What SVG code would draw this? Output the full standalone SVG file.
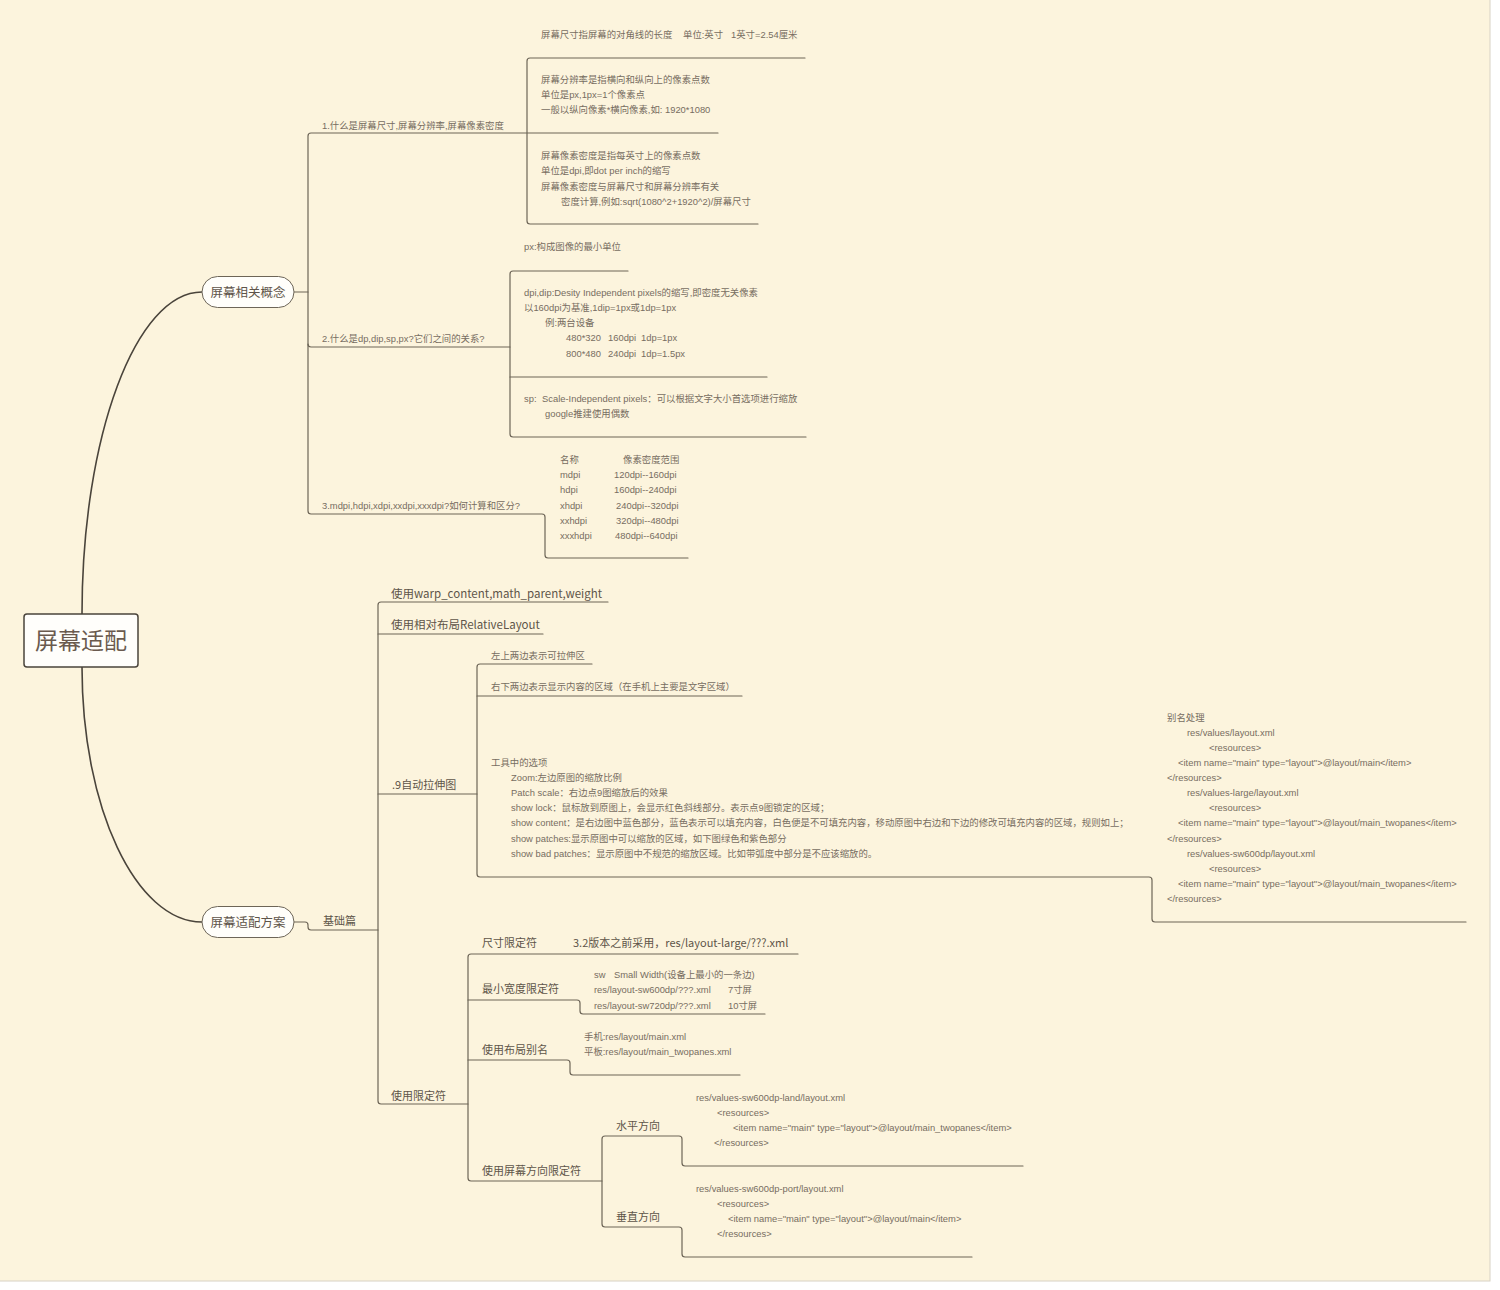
<svg xmlns="http://www.w3.org/2000/svg" width="1500" height="1290" viewBox="0 0 1500 1290">
<style>
.bg{fill:#fcf4dd;stroke:#d8d2c4;stroke-width:1}
.ln{fill:none;stroke:#6d6557;stroke-width:1.2;stroke-linecap:round}
.cv{fill:none;stroke:#4a443b;stroke-width:1.6}
.s{font-family:"Liberation Sans","Noto Sans CJK SC",sans-serif;font-size:9.4px;fill:#776d61}
.m{font-family:"Noto Sans CJK SC","Liberation Sans",sans-serif;font-size:11px;fill:#5e5449}
.l{font-family:"Noto Sans CJK SC","Liberation Sans",sans-serif;font-size:11.5px;fill:#5e5449}
.pill{fill:#fffefa;stroke:#6d6557;stroke-width:1}
.pt{font-family:"Noto Sans CJK SC",sans-serif;font-size:12.5px;fill:#5e5449}
.root{fill:#fffefb;stroke:#4a443b;stroke-width:1.5}
.rt{font-family:"Noto Sans CJK SC",sans-serif;font-size:23px;fill:#6a5a4e}
</style>
<rect x="0" y="0" width="1500" height="1290" fill="#ffffff"/>
<rect class="bg" x="-1" y="-1" width="1491" height="1282"/>

<g id="connectors">
  <path class="cv" d="M 82 614 C 82 436 136 292 202 292"/>
  <path class="cv" d="M 82 667 C 82 808 136 922 202 922"/>
  <path class="ln" d="M 294 292 H 308"/>
  <path class="ln" d="M 718 133 H 311 Q 308 133 308 136 V 511 Q 308 514 311 514 H 542 Q 545 514 545 517 V 555 Q 545 558 548 558 H 688"/>
  <path class="ln" d="M 308 344 Q 308 347 311 347 H 510"/>
  <path class="ln" d="M 805 58 H 530 Q 527 58 527 61 V 221 Q 527 224 530 224 H 758"/>
  <path class="ln" d="M 628 271 H 513 Q 510 271 510 274 V 434 Q 510 437 513 437 H 806"/>
  <path class="ln" d="M 510 377 H 767"/>
  <path class="ln" d="M 294 922 H 305 Q 308 922 308 925 V 927 Q 308 930 311 930 H 378"/>
  <path class="ln" d="M 608 602 H 381 Q 378 602 378 605 V 1101 Q 378 1104 381 1104 H 468"/>
  <path class="ln" d="M 378 634 H 543"/>
  <path class="ln" d="M 378 794 H 477"/>
  <path class="ln" d="M 592 664 H 480 Q 477 664 477 667 V 874 Q 477 877 480 877 H 1149 Q 1152 877 1152 880 V 919 Q 1152 922 1155 922 H 1466"/>
  <path class="ln" d="M 477 696 H 742"/>
  <path class="ln" d="M 798 954 H 471 Q 468 954 468 957 V 1178 Q 468 1181 471 1181 H 602"/>
  <path class="ln" d="M 468 1000 H 577 Q 580 1000 580 1003 V 1011 Q 580 1014 583 1014 H 765"/>
  <path class="ln" d="M 468 1060 H 567 Q 570 1060 570 1063 V 1072 Q 570 1075 573 1075 H 740"/>
  <path class="ln" d="M 1023 1166 H 685 Q 682 1166 682 1163 V 1139 Q 682 1136 679 1136 H 605 Q 602 1136 602 1139 V 1224 Q 602 1227 605 1227 H 679 Q 682 1227 682 1230 V 1254 Q 682 1257 685 1257 H 972"/>
</g>

<g id="root">
  <rect class="root" x="24" y="614" width="114" height="53" rx="3"/>
  <text class="rt" x="81" y="649" text-anchor="middle">屏幕适配</text>
</g>

<g id="concepts">
  <rect class="pill" x="202" y="276.5" width="92" height="31" rx="15.5"/>
  <text class="pt" x="248" y="297" text-anchor="middle">屏幕相关概念</text>
</g>
<g id="solutions">
  <rect class="pill" x="202" y="906.5" width="92" height="31" rx="15.5"/>
  <text class="pt" x="248" y="927" text-anchor="middle">屏幕适配方案</text>
</g>

<g id="q1">
  <text class="s" x="322" y="128.5">1.什么是屏幕尺寸,屏幕分辨率,屏幕像素密度</text>
</g>
<g id="q1-size">
  <text class="s" y="37.5"><tspan x="541">屏幕尺寸指屏幕的对角线的长度</tspan><tspan x="683">单位:英寸</tspan><tspan x="731">1英寸=2.54厘米</tspan></text>
</g>
<g id="q1-resolution">
  <text class="s" x="541" y="82.5">屏幕分辨率是指横向和纵向上的像素点数</text>
  <text class="s" x="541" y="97.5">单位是px,1px=1个像素点</text>
  <text class="s" x="541" y="112.5">一般以纵向像素*横向像素,如: 1920*1080</text>
</g>
<g id="q1-density">
  <text class="s" x="541" y="158.5">屏幕像素密度是指每英寸上的像素点数</text>
  <text class="s" x="541" y="173.5">单位是dpi,即dot per inch的缩写</text>
  <text class="s" x="541" y="189.5">屏幕像素密度与屏幕尺寸和屏幕分辨率有关</text>
  <text class="s" x="561" y="204.5">密度计算,例如:sqrt(1080^2+1920^2)/屏幕尺寸</text>
</g>

<g id="q2">
  <text class="s" x="322" y="341.5">2.什么是dp,dip,sp,px?它们之间的关系?</text>
</g>
<g id="q2-px">
  <text class="s" x="524" y="249.5">px:构成图像的最小单位</text>
</g>
<g id="q2-dp">
  <text class="s" x="524" y="295.5">dpi,dip:Desity Independent pixels的缩写,即密度无关像素</text>
  <text class="s" x="524" y="310.5">以160dpi为基准,1dip=1px或1dp=1px</text>
  <text class="s" x="545" y="325.5">例:两台设备</text>
  <text class="s" y="340.5"><tspan x="566">480*320</tspan><tspan x="608">160dpi</tspan><tspan x="641">1dp=1px</tspan></text>
  <text class="s" y="356.5"><tspan x="566">800*480</tspan><tspan x="608">240dpi</tspan><tspan x="641">1dp=1.5px</tspan></text>
</g>
<g id="q2-sp">
  <text class="s" y="401.5"><tspan x="524">sp:</tspan><tspan x="542">Scale-Independent pixels：可以根据文字大小首选项进行缩放</tspan></text>
  <text class="s" x="545" y="416.5">google推建使用偶数</text>
</g>

<g id="q3">
  <text class="s" x="322" y="508.5">3.mdpi,hdpi,xdpi,xxdpi,xxxdpi?如何计算和区分?</text>
</g>
<g id="q3-table">
  <text class="s" y="462.5"><tspan x="560">名称</tspan><tspan x="623">像素密度范围</tspan></text>
  <text class="s" y="477.5"><tspan x="560">mdpi</tspan><tspan x="614">120dpi--160dpi</tspan></text>
  <text class="s" y="492.5"><tspan x="560">hdpi</tspan><tspan x="614">160dpi--240dpi</tspan></text>
  <text class="s" y="508.5"><tspan x="560">xhdpi</tspan><tspan x="616">240dpi--320dpi</tspan></text>
  <text class="s" y="523.5"><tspan x="560">xxhdpi</tspan><tspan x="616">320dpi--480dpi</tspan></text>
  <text class="s" y="538.5"><tspan x="560">xxxhdpi</tspan><tspan x="615">480dpi--640dpi</tspan></text>
</g>

<g id="basic">
  <text class="m" x="323" y="925">基础篇</text>
</g>
<g id="wrap">
  <text class="l" x="391" y="598">使用warp_content,math_parent,weight</text>
</g>
<g id="relative">
  <text class="l" x="391" y="629">使用相对布局RelativeLayout</text>
</g>
<g id="ninepatch">
  <text class="m" x="392" y="789">.9自动拉伸图</text>
</g>
<g id="np-stretch">
  <text class="s" x="491" y="658.5">左上两边表示可拉伸区</text>
</g>
<g id="np-content">
  <text class="s" x="491" y="689.5">右下两边表示显示内容的区域（在手机上主要是文字区域）</text>
</g>
<g id="np-tools">
  <text class="s" x="491" y="765.5">工具中的选项</text>
  <text class="s" x="511" y="780.5">Zoom:左边原图的缩放比例</text>
  <text class="s" x="511" y="795.5">Patch scale：右边点9图缩放后的效果</text>
  <text class="s" x="511" y="810.5">show lock：鼠标放到原图上，会显示红色斜线部分。表示点9图锁定的区域；</text>
  <text class="s" x="511" y="825.5">show content：是右边图中蓝色部分，蓝色表示可以填充内容，白色便是不可填充内容，移动原图中右边和下边的修改可填充内容的区域，规则如上；</text>
  <text class="s" x="511" y="841.5">show patches:显示原图中可以缩放的区域，如下图绿色和紫色部分</text>
  <text class="s" x="511" y="856.5">show bad patches：显示原图中不规范的缩放区域。比如带弧度中部分是不应该缩放的。</text>
</g>
<g id="alias-values">
  <text class="s" x="1167" y="720.5">别名处理</text>
  <text class="s" x="1187" y="735.5">res/values/layout.xml</text>
  <text class="s" x="1209" y="750.5">&lt;resources&gt;</text>
  <text class="s" x="1178" y="765.5">&lt;item name="main" type="layout"&gt;@layout/main&lt;/item&gt;</text>
  <text class="s" x="1167" y="780.5">&lt;/resources&gt;</text>
  <text class="s" x="1187" y="795.5">res/values-large/layout.xml</text>
  <text class="s" x="1209" y="810.5">&lt;resources&gt;</text>
  <text class="s" x="1178" y="825.5">&lt;item name="main" type="layout"&gt;@layout/main_twopanes&lt;/item&gt;</text>
  <text class="s" x="1167" y="841.5">&lt;/resources&gt;</text>
  <text class="s" x="1187" y="856.5">res/values-sw600dp/layout.xml</text>
  <text class="s" x="1209" y="871.5">&lt;resources&gt;</text>
  <text class="s" x="1178" y="886.5">&lt;item name="main" type="layout"&gt;@layout/main_twopanes&lt;/item&gt;</text>
  <text class="s" x="1167" y="901.5">&lt;/resources&gt;</text>
</g>

<g id="qualifiers">
  <text class="m" x="391" y="1100">使用限定符</text>
</g>
<g id="q-size">
  <text class="m" x="482" y="947">尺寸限定符</text>
</g>
<g id="q-size-note">
  <text class="m" x="573" y="947">3.2版本之前采用，res/layout-large/???.xml</text>
</g>
<g id="q-sw">
  <text class="m" x="482" y="993">最小宽度限定符</text>
</g>
<g id="q-sw-note">
  <text class="s" y="977.5"><tspan x="594">sw</tspan><tspan x="614">Small Width(设备上最小的一条边)</tspan></text>
  <text class="s" y="992.5"><tspan x="594">res/layout-sw600dp/???.xml</tspan><tspan x="728">7寸屏</tspan></text>
  <text class="s" y="1008.5"><tspan x="594">res/layout-sw720dp/???.xml</tspan><tspan x="728">10寸屏</tspan></text>
</g>
<g id="q-alias">
  <text class="m" x="482" y="1054">使用布局别名</text>
</g>
<g id="q-alias-note">
  <text class="s" x="584" y="1039.5">手机:res/layout/main.xml</text>
  <text class="s" x="584" y="1054.5">平板:res/layout/main_twopanes.xml</text>
</g>
<g id="q-orient">
  <text class="m" x="482" y="1175">使用屏幕方向限定符</text>
</g>
<g id="q-land">
  <text class="m" x="616" y="1130">水平方向</text>
</g>
<g id="q-land-note">
  <text class="s" x="696" y="1100.5">res/values-sw600dp-land/layout.xml</text>
  <text class="s" x="717" y="1115.5">&lt;resources&gt;</text>
  <text class="s" x="733" y="1130.5">&lt;item name="main" type="layout"&gt;@layout/main_twopanes&lt;/item&gt;</text>
  <text class="s" x="714" y="1145.5">&lt;/resources&gt;</text>
</g>
<g id="q-port">
  <text class="m" x="616" y="1221">垂直方向</text>
</g>
<g id="q-port-note">
  <text class="s" x="696" y="1191.5">res/values-sw600dp-port/layout.xml</text>
  <text class="s" x="717" y="1206.5">&lt;resources&gt;</text>
  <text class="s" x="728" y="1221.5">&lt;item name="main" type="layout"&gt;@layout/main&lt;/item&gt;</text>
  <text class="s" x="717" y="1236.5">&lt;/resources&gt;</text>
</g>
</svg>
